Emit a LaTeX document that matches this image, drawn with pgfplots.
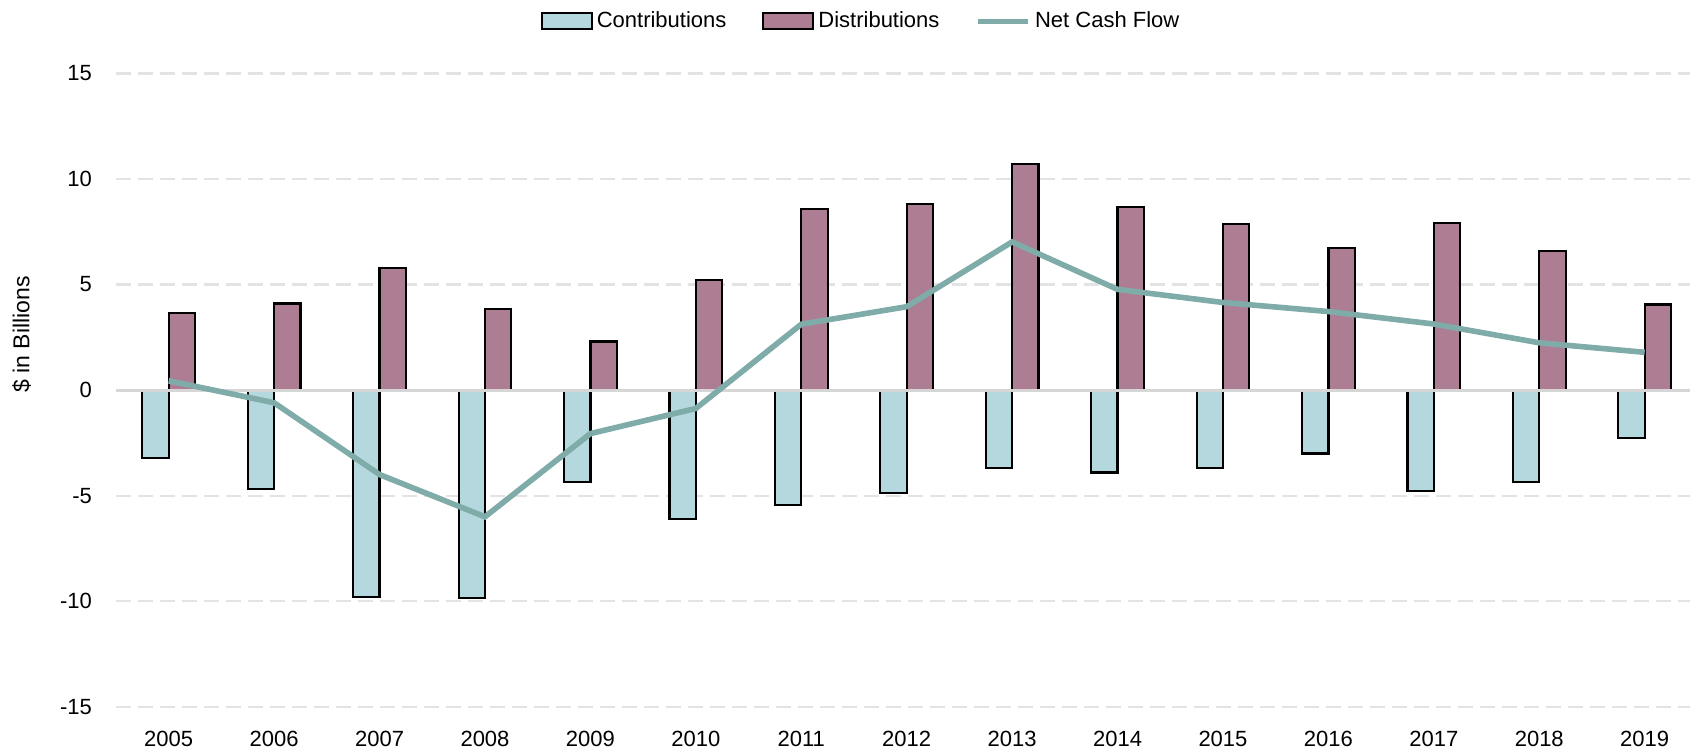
\documentclass[border=0pt]{standalone}
\usepackage{pgfplots}
\pgfplotsset{compat=1.18}
\usepackage{fontspec}
\setmainfont{Liberation Sans}
\definecolor{contrib}{HTML}{B5D8DE}
\definecolor{distrib}{HTML}{AD7D94}
\definecolor{netcf}{HTML}{7FABA9}
\definecolor{gridc}{HTML}{E3E3E3}
\definecolor{zeroc}{HTML}{D6D6D6}
\begin{document}
\begin{tikzpicture}
\useasboundingbox (-58pt,-22.2pt) rectangle (787pt,353.4pt);
\begin{axis}[
  at={(0,0)}, anchor=south west,
  scale only axis,
  width=787pt, height=316.7pt,
  xmin=-0.5, xmax=14.43,
  ymin=-15, ymax=15,
  ytick={-15,-10,-5,0,5,10,15},
  xtick={0,...,14},
  xticklabels={2005,2006,2007,2008,2009,2010,2011,2012,2013,2014,2015,2016,2017,2018,2019},
  axis line style={draw=none},
  major tick length=0pt,
  ymajorgrids,
  grid style={gridc, line width=1.1pt, dash pattern=on 7.5pt off 3.5pt},
  tick label style={font=\fontsize{11}{13}\selectfont, text=black},
  /pgf/number format/assume math mode=true,
  yticklabel style={xshift=-8.5pt},
  xticklabel style={yshift=-8.6pt},
  ylabel={\$ in Billions},
  ylabel style={font=\fontsize{11.5}{13}\selectfont, at={(axis description cs:-0.06,0.588)}, anchor=center, rotate=0},
  legend style={
    at={(axis description cs:0.474,1.082)}, anchor=center,
    draw=none, fill=none,
    font=\fontsize{11}{13}\selectfont,
    legend columns=-1,
    /tikz/every odd column/.append style={column sep=0pt},
    /tikz/every even column/.append style={column sep=16pt},
  },
  legend cell align=left,
]
\addplot[ybar, bar width=0.25, bar shift=-0.125, fill=contrib, draw=black, line width=1.1pt,
  legend image code/.code={\draw[fill=contrib, draw=black, line width=1pt] (0pt,-4pt) rectangle (25pt,4pt);}]
  coordinates {(0,-3.2) (1,-4.7) (2,-9.8) (3,-9.85) (4,-4.36) (5,-6.1) (6,-5.44) (7,-4.87) (8,-3.7) (9,-3.9) (10,-3.7) (11,-3.0) (12,-4.77) (13,-4.36) (14,-2.26)};
\addlegendentry{Contributions}
\addplot[ybar, bar width=0.25, bar shift=0.125, fill=distrib, draw=black, line width=1.1pt,
  legend image code/.code={\draw[fill=distrib, draw=black, line width=1pt] (0pt,-4pt) rectangle (25pt,4pt);}]
  coordinates {(0,3.64) (1,4.1) (2,5.8) (3,3.85) (4,2.3) (5,5.23) (6,8.56) (7,8.82) (8,10.72) (9,8.67) (10,7.85) (11,6.72) (12,7.9) (13,6.6) (14,4.05)};
\addlegendentry{Distributions}
\draw[zeroc, line width=1.5pt] (axis cs:-0.5,0) -- (axis cs:14.43,0);
\addplot[sharp plot, no markers, netcf, line width=2.8pt,
  legend image code/.code={\draw[netcf, line width=2.8pt] (0pt,0pt) -- (25pt,0pt);}]
  coordinates {(0,0.44) (1,-0.6) (2,-4.0) (3,-6.0) (4,-2.06) (5,-0.87) (6,3.12) (7,3.95) (8,7.02) (9,4.77) (10,4.15) (11,3.72) (12,3.13) (13,2.24) (14,1.79)};
\addlegendentry{Net Cash Flow}
\end{axis}
\end{tikzpicture}
\end{document}
